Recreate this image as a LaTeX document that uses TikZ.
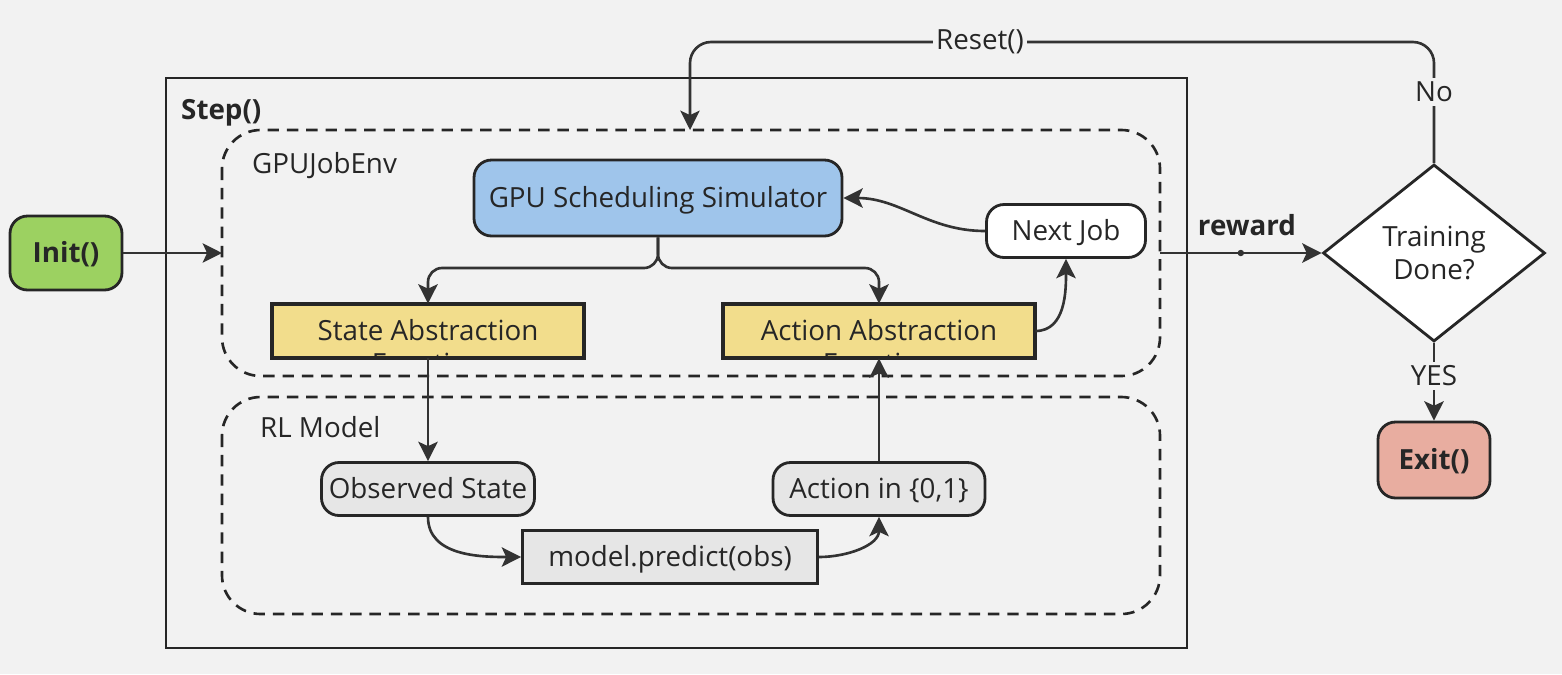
\documentclass[tikz,border=0pt]{standalone}
\usepackage{fontspec}
\setmainfont{Open Sans}
\usetikzlibrary{arrows.meta,shapes.geometric}
\definecolor{bg}{HTML}{F2F2F2}
\definecolor{ln}{HTML}{333333}
\definecolor{greenf}{HTML}{9CD161}
\definecolor{bluef}{HTML}{9FC5EB}
\definecolor{yellowf}{HTML}{F2DD8C}
\definecolor{grayf}{HTML}{E6E6E6}
\definecolor{redf}{HTML}{E8ADA0}
\begin{document}
\begin{tikzpicture}[x=0.02cm,y=-0.02cm,
  every node/.style={font=\fontsize{15.8}{19}\selectfont, text=black!85},
  base/.style={draw=black!85, line width=1.6pt, inner sep=0pt, text height=11.3pt, text depth=0pt},
  rbox/.style={base, rounded corners=10pt},
  sbox/.style={base},
  arr/.style={draw=ln, line width=1.5pt, -{Stealth[length=11pt,width=11pt,inset=2.5pt]}},
  cont/.style={draw=black!85, line width=1.5pt, dash pattern=on 6.5pt off 4.5pt, rounded corners=22pt},
  lbl/.style={fill=bg, inner sep=2pt}]
\fill[bg] (0,0) rectangle (1562,674);
\useasboundingbox (0,0) rectangle (1562,674);
% outer step box
\draw[black!85, line width=1.6pt] (166,78) rectangle (1187,648);
\node[anchor=west, font=\fontsize{15.8}{19}\selectfont\bfseries] (steplbl) at (175,113) {Step()};
% containers
\draw[cont] (222,130) rectangle (1160,376);
\coordinate (envW) at (222,253);
\coordinate (envE) at (1160,253);
\coordinate (envN) at (690,130);
\node[anchor=west] (envlbl) at (246,166) {GPUJobEnv};
\draw[cont] (222,397) rectangle (1160,614);
\node[anchor=west] (rllbl) at (254,427) {RL Model};
% nodes
\node[rbox, fill=greenf, minimum width={112*0.02cm}, minimum height={74*0.02cm}, font=\fontsize{15.8}{19}\selectfont\bfseries] (init) at (66,253) {Init()};
\node[rbox, fill=bluef, minimum width={368*0.02cm}, minimum height={76*0.02cm}] (gpu) at (658,198) {GPU Scheduling Simulator};
\node[rbox, fill=white, minimum width={159*0.02cm}, minimum height={53*0.02cm}] (next) at (1066,231) {Next Job};
\node[sbox, fill=yellowf, minimum width={310*0.02cm}, minimum height={52*0.02cm}] (state) at (428,331) {};
\node[sbox, fill=yellowf, minimum width={310*0.02cm}, minimum height={52*0.02cm}] (action) at (879,331) {};
\begin{scope}
\clip (state.south west) rectangle (state.north east);
\node[align=center, anchor=north] (statet) at (428,313) {State Abstraction\\Function};
\end{scope}
\begin{scope}
\clip (action.south west) rectangle (action.north east);
\node[align=center, anchor=north] (actiont) at (879,313) {Action Abstraction\\Function};
\end{scope}
\draw[black!85, line width=1.6pt] (state.south west) rectangle (state.north east);
\draw[black!85, line width=1.6pt] (action.south west) rectangle (action.north east);
\node[rbox, fill=grayf, minimum width={213*0.02cm}, minimum height={53*0.02cm}] (obs) at (428,489) {Observed State};
\node[rbox, fill=grayf, minimum width={212*0.02cm}, minimum height={53*0.02cm}] (act) at (879,489) {Action in \{0,1\}};
\node[sbox, fill=grayf, minimum width={295*0.02cm}, minimum height={53*0.02cm}] (pred) at (670,557) {model.predict(obs)};
\node[diamond, draw=black!85, line width=1.6pt, fill=white, minimum width={222*0.02cm}, minimum height={177*0.02cm}, inner sep=0pt, align=center] (done) at (1434,253) {Training\\Done?};
\node[rbox, fill=redf, minimum width={112*0.02cm}, minimum height={76*0.02cm}, font=\fontsize{15.8}{19}\selectfont\bfseries] (exit) at (1434,460) {Exit()};
% connectors
\draw[arr] (init.east) -- (envW);
\draw[arr, rounded corners=8pt] (gpu.south) -- (658,268) -- (428,268) -- (state.north);
\draw[arr, rounded corners=8pt] (gpu.south) -- (658,268) -- (879,268) -- (action.north);
\draw[arr] (next.west) to[out=180,in=0] (gpu.east);
\draw[arr] (action.east) to[out=0,in=-90] (next.south);
\draw[arr] (state.south) -- (obs.north);
\draw[arr] (obs.south) to[out=-90,in=180] (pred.west);
\draw[arr] (pred.east) to[out=0,in=-90] (act.south);
\draw[arr] (act.north) -- (action.south);
\draw[arr] (envE) -- node[pos=0.5, circle, fill=ln, inner sep=1.3pt] (mid) {} (done.west);
\node[font=\fontsize{15.8}{19}\selectfont\bfseries] (rwd) at (1247,225) {reward};
\draw[arr, rounded corners=12pt] (done.north) -- (1434,42) -- (690,42) -- (envN);
\node[lbl] (reset) at (980,42) {Reset()};
\node[lbl] (no) at (1434,92) {No};
\draw[arr] (done.south) -- (exit.north);
\node[lbl] (yes) at (1434,376) {YES};
\end{tikzpicture}
\end{document}
